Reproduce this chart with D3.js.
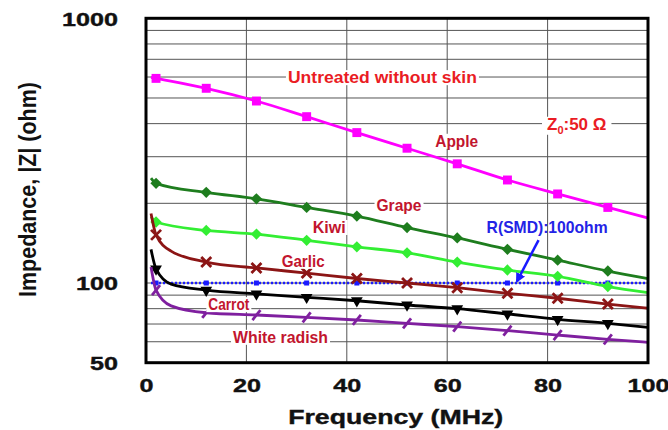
<!DOCTYPE html>
<html><head><meta charset="utf-8">
<script src="https://cdn.jsdelivr.net/npm/d3@7"></script>
<style>
html,body{margin:0;padding:0;background:#fff;}
svg{display:block;font-family:"Liberation Sans",Arial,sans-serif;}
</style></head>
<body>
<svg id="chart" width="668" height="430"></svg>
<script>
// ---- data ----
const freqSmooth = [1, 2, 12, 22, 32, 42, 52, 62, 72, 82, 92, 100];
const freqSteep  = [1, 2, 5, 12, 22, 32, 42, 52, 62, 72, 82, 92, 100];
const markerFreqs = [2, 12, 22, 32, 42, 52, 62, 72, 82, 92];

const apple  = [598, 593, 544, 487, 425, 370, 323, 282, 245, 217, 193, 176];
const grape  = [249, 238, 220, 208, 193, 179, 162, 148, 134, 122, 111, 104];
const kiwi   = [178, 170, 158, 153, 145, 137, 130, 120, 112, 106, 97, 92];
const garlic = [183, 152, 132, 120, 114, 109, 104, 100, 96, 91.4, 87.6, 83.3, 80.3];
const carrot = [134, 113, 99, 94, 91, 88.3, 85.7, 82.6, 80, 76.4, 72.9, 70.4, 68];
const radish = [115, 94, 82, 77.2, 75.7, 74.2, 72.5, 70.4, 68.4, 66.1, 63.6, 61.3, 59.7];
const smdFreqs = [1, 2, 12, 22, 32, 42, 52, 62, 72, 82, 92, 100];
const smd    = [100, 100, 100, 100, 100, 100, 100, 100, 100, 100, 100, 100];

const yTickValues = [50, 100, 1000];
const xTickValues = [0, 20, 40, 60, 80, 100];
const yGrid = [60, 70, 80, 90, 100, 200, 300, 400, 500, 600, 700, 800, 900];
const xGrid = [20, 40, 60, 80];

const seriesNames = ["Apple", "Grape", "Kiwi", "Garlic", "Carrot", "White radish"];

// annotation labels (text, freq, value)
const labelTexts  = ["Untreated without skin", "Apple", "Grape", "Kiwi", "Garlic", "Carrot", "White radish"];
const labelFreqs  = [47.1, 61.9, 50.4, 36.5, 31.3, 16.5, 26.8];
const labelValues = [600, 345, 197, 163, 121.4, 83.3, 62.7];
// rendered widths (styling)
const labelWidths = [189, 43, 45, 33, 43, 41, 95];

// ---- layout ----
const svg = d3.select("#chart");
const x = d3.scaleLinear().domain([0, 100]).range([146, 648]);
const y = d3.scaleLog().domain([50, 1000]).range([362.7, 18.3]);

const gridColor = "#555";
svg.append("g").selectAll("line").data(yGrid).join("line")
  .attr("x1", x(0)).attr("x2", x(100))
  .attr("y1", d => y(d)).attr("y2", d => y(d))
  .attr("stroke", gridColor).attr("stroke-width", 1);
svg.append("g").selectAll("line").data(xGrid).join("line")
  .attr("y1", y(50)).attr("y2", y(1000))
  .attr("x1", d => x(d)).attr("x2", d => x(d))
  .attr("stroke", gridColor).attr("stroke-width", 1);

// axes (labels only)
const yAxis = svg.append("g").attr("transform", `translate(${x(0)},0)`)
  .call(d3.axisLeft(y).tickValues(yTickValues).tickFormat(d3.format("d")).tickSize(0).tickPadding(28));
yAxis.select(".domain").remove();
yAxis.selectAll("text")
  .attr("font-family", "Liberation Sans, Arial, sans-serif")
  .attr("font-size", 19).attr("font-weight", "bold").attr("fill", "#111")
  .attr("stroke", "#111").attr("stroke-width", 0.4)
  .attr("dy", "0.36em")
  .attr("textLength", function(){ return this.textContent.length * 14; })
  .attr("lengthAdjust", "spacingAndGlyphs");

const xAxis = svg.append("g").attr("transform", `translate(0,${y(50)})`)
  .call(d3.axisBottom(x).tickValues(xTickValues).tickSize(0).tickPadding(22));
xAxis.select(".domain").remove();
xAxis.selectAll("text")
  .attr("font-family", "Liberation Sans, Arial, sans-serif")
  .attr("font-size", 19).attr("font-weight", "bold").attr("fill", "#111")
  .attr("stroke", "#111").attr("stroke-width", 0.4)
  .attr("dy", "0.36em")
  .attr("textLength", function(){ return this.textContent.length * 14; })
  .attr("lengthAdjust", "spacingAndGlyphs");

// axis titles
svg.append("text").attr("x", 395.7).attr("y", 424)
  .attr("text-anchor", "middle").attr("font-size", 21).attr("font-weight", "bold").attr("fill", "#111")
  .attr("stroke", "#111").attr("stroke-width", 0.4)
  .attr("textLength", 215).attr("lengthAdjust", "spacingAndGlyphs")
  .text("Frequency (MHz)");
svg.append("text").attr("transform", "translate(36,189.5) rotate(-90) scale(1,1.15)")
  .attr("text-anchor", "middle").attr("font-size", 21).attr("font-weight", "bold").attr("fill", "#111")
  .attr("textLength", 215).attr("lengthAdjust", "spacingAndGlyphs")
  .text("Impedance, |Z| (ohm)");

// series
const line = d3.line().x(d => x(d[0])).y(d => y(d[1])).curve(d3.curveMonotoneX);
const series = [
  {name: seriesNames[0], f: freqSmooth, v: apple,  color: "#ff00ff", marker: "square"},
  {name: seriesNames[1], f: freqSmooth, v: grape,  color: "#1e7d1e", marker: "diamond"},
  {name: seriesNames[2], f: freqSmooth, v: kiwi,   color: "#33ee33", marker: "diamond"},
  {name: seriesNames[3], f: freqSteep,  v: garlic, color: "#8c1515", marker: "x"},
  {name: seriesNames[4], f: freqSteep,  v: carrot, color: "#000000", marker: "tri"},
  {name: seriesNames[5], f: freqSteep,  v: radish, color: "#7f1f9f", marker: "slash"}
];

// SMD reference line
const smdPts = smdFreqs.map((f, i) => [f, smd[i]]);
svg.append("path").datum(smdPts).attr("d", line).attr("fill", "none")
  .attr("stroke", "#1a1aff").attr("stroke-width", 2.5).attr("stroke-dasharray", "2,2");
svg.append("g").selectAll("rect").data(smdPts.filter(p => markerFreqs.includes(p[0]))).join("rect")
  .attr("x", d => x(d[0]) - 2.5).attr("y", d => y(d[1]) - 2.5)
  .attr("width", 5).attr("height", 5).attr("fill", "#1a1aff");

series.forEach(s => {
  const pts = s.f.map((f, i) => [f, s.v[i]]);
  svg.append("path").datum(pts).attr("d", line).attr("fill", "none")
    .attr("stroke", s.color).attr("stroke-width", 2.8);
  const mk = pts.filter(p => markerFreqs.includes(p[0]));
  const g = svg.append("g").selectAll("g").data(mk).join("g")
    .attr("transform", d => `translate(${x(d[0])},${y(d[1])})`);
  if (s.marker === "square") {
    g.append("path").attr("d", d3.symbol(d3.symbolSquare, 80)).attr("fill", s.color);
  } else if (s.marker === "diamond") {
    g.append("path").attr("d", d3.symbol(d3.symbolSquare, 64)).attr("transform", "rotate(45)").attr("fill", s.color);
  } else if (s.marker === "x") {
    g.append("path").attr("d", "M-5,-5L5,5M-5,5L5,-5").attr("stroke", s.color).attr("stroke-width", 2.8);
  } else if (s.marker === "tri") {
    g.append("path").attr("d", d3.symbol(d3.symbolTriangle, 60)).attr("transform", "rotate(180)").attr("fill", s.color);
  } else if (s.marker === "slash") {
    g.append("path").attr("d", "M-4,5L4,-5").attr("stroke", s.color).attr("stroke-width", 2.8);
  }
});

// frame
svg.append("rect").attr("x", x(0)).attr("y", y(1000))
  .attr("width", x(100) - x(0)).attr("height", y(50) - y(1000))
  .attr("fill", "none").attr("stroke", "#000").attr("stroke-width", 3);

// labels with white background
function addLabel(t, fx, fv, color, size, w) {
  const g = svg.append("g");
  const txt = g.append("text").attr("x", x(fx)).attr("y", y(fv)).attr("dy", "0.36em")
    .attr("text-anchor", "middle").attr("font-size", size).attr("font-weight", "bold")
    .attr("fill", color).attr("textLength", w).attr("lengthAdjust", "spacingAndGlyphs").text(t);
  const bb = txt.node().getBBox();
  g.insert("rect", "text").attr("x", x(fx) - w / 2 - 2).attr("y", bb.y + 2)
    .attr("width", w + 4).attr("height", bb.height - 4).attr("fill", "#fff");
  return txt;
}
labelTexts.forEach((t, i) => {
  const color = i === 0 ? "#ea1c24" : "#c2152e";
  addLabel(t, labelFreqs[i], labelValues[i], color, 17, labelWidths[i]);
});

// Z0 label
(function(){
  const g = svg.append("g");
  const txt = g.append("text").attr("x", x(85.8)).attr("y", y(400)).attr("dy", "0.36em")
    .attr("text-anchor", "middle").attr("font-size", 17).attr("font-weight", "bold").attr("fill", "#ea1c24");
  txt.append("tspan").text("Z");
  txt.append("tspan").attr("font-size", 11).attr("dy", 4).text("0");
  txt.append("tspan").attr("dy", -4).text(":50 Ω");
  const bb = txt.node().getBBox();
  g.insert("rect", "text").attr("x", bb.x - 5).attr("y", bb.y + 2)
    .attr("width", bb.width + 10).attr("height", bb.height - 3).attr("fill", "#fff");
})();

// SMD label + arrow
svg.append("defs").append("marker").attr("id", "ah").attr("viewBox", "0 0 10 10")
  .attr("refX", 8).attr("refY", 5).attr("markerWidth", 4).attr("markerHeight", 4)
  .attr("orient", "auto").append("path").attr("d", "M0,0L10,5L0,10z").attr("fill", "#1a1aff");
svg.append("line").attr("x1", x(78.2)).attr("y1", y(145.3)).attr("x2", x(73.9)).attr("y2", y(101.5))
  .attr("stroke", "#1a1aff").attr("stroke-width", 2.5).attr("marker-end", "url(#ah)");
svg.append("text").attr("x", x(79.9)).attr("y", y(162.3)).attr("dy", "0.36em")
  .attr("text-anchor", "middle").attr("font-size", 17).attr("font-weight", "bold")
  .attr("fill", "#2323e6").attr("textLength", 121).attr("lengthAdjust", "spacingAndGlyphs")
  .text("R(SMD):100ohm");
</script>
</body></html>
